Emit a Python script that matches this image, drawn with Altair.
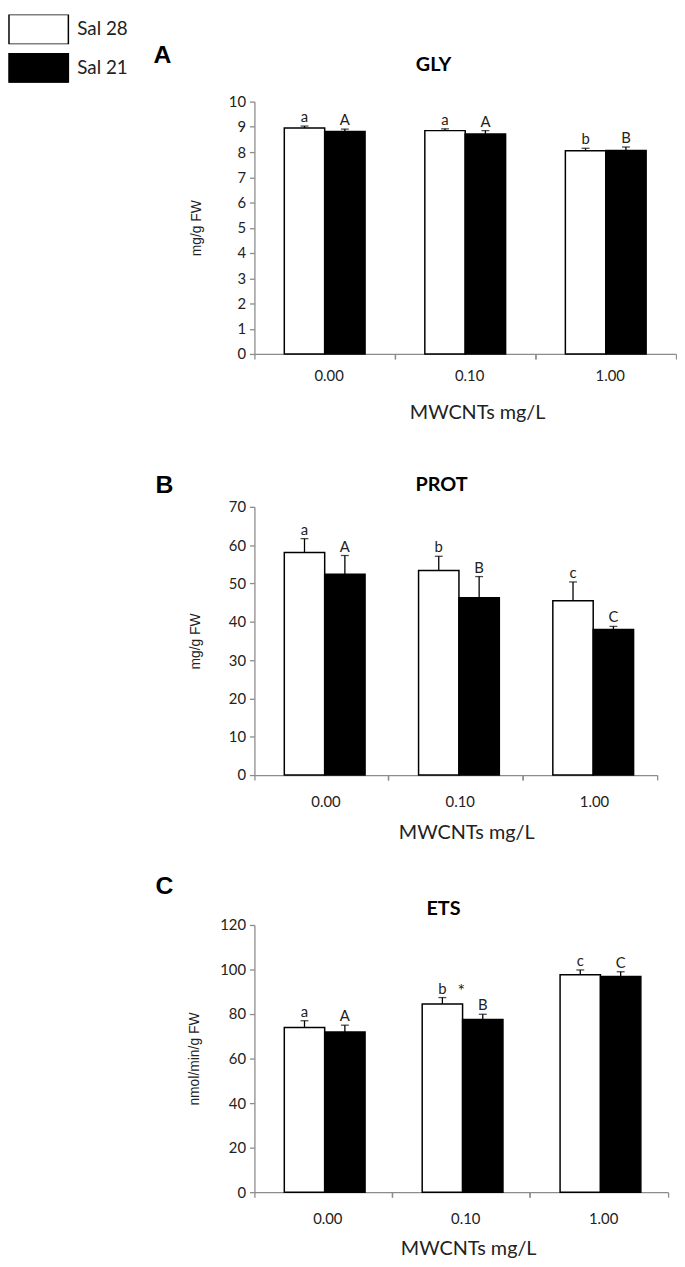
import altair as alt
import pandas as pd

# ---------------- data ----------------
conc = ["0.00", "0.10", "1.00"]
series = ["Sal 28", "Sal 21"]

gly_sal28 = [8.95, 8.85, 8.05]
gly_sal28_err = [0.08, 0.07, 0.10]
gly_sal21 = [8.82, 8.72, 8.06]
gly_sal21_err = [0.09, 0.13, 0.14]
gly_sal28_sig = ["a", "a", "b"]
gly_sal21_sig = ["A", "A", "B"]

prot_sal28 = [58.1, 53.4, 45.5]
prot_sal28_err = [3.6, 3.7, 4.9]
prot_sal21 = [52.4, 46.3, 38.0]
prot_sal21_err = [4.9, 5.5, 0.8]
prot_sal28_sig = ["a", "b", "c"]
prot_sal21_sig = ["A", "B", "C"]

ets_sal28 = [74.0, 84.5, 97.6]
ets_sal28_err = [3.0, 2.9, 2.2]
ets_sal21 = [71.9, 77.5, 96.9]
ets_sal21_err = [3.1, 2.4, 2.1]
ets_sal28_sig = ["a", "b", "c"]
ets_sal21_sig = ["A", "B", "C"]

ets_star_conc = ["0.10"]
ets_star_value = [90]
ets_star_text = ["*"]

panel_letters = ["A", "B", "C"]
panel_titles = ["GLY", "PROT", "ETS"]
y_titles = ["mg/g FW", "mg/g FW", "nmol/min/g FW"]
x_title = "MWCNTs mg/L"


def make_df(v28, e28, s28, v21, e21, s21):
    rows = []
    for i, c in enumerate(conc):
        rows.append({"conc": c, "series": series[0], "value": v28[i], "err": e28[i], "sig": s28[i]})
        rows.append({"conc": c, "series": series[1], "value": v21[i], "err": e21[i], "sig": s21[i]})
    return pd.DataFrame(rows)


AX = "#8c8c8c"
TXT = "#222222"

legend = alt.Legend(
    orient="none", legendX=-249, legendY=-88, title=None, padding=0, offset=0,
    titlePadding=0,
    symbolType="M-1,-0.5H1V0.5H-1Z", symbolSize=3600, clipHeight=30,
    symbolStrokeWidth=1.5, labelFont="Lato", labelFontSize=19,
    labelColor=TXT, labelOffset=8, rowPadding=9, direction="vertical",
)


def panel(df, width, height, ymax, ystep, ytitle, ytitle_x, title, title_xy,
          letter, letter_xy, label_pad, title_pad, xtitle, xtitle_x, extra=None):
    xscale = alt.Scale(paddingInner=0, paddingOuter=0)
    offscale = alt.Scale(paddingInner=0, paddingOuter=0.74)
    yscale = alt.Scale(domain=[0, ymax], nice=False, zero=True)
    yvals = list(range(0, ymax + 1, ystep))
    yaxis = alt.Axis(
        values=yvals, title=ytitle, grid=False, domainColor=AX, domainWidth=1.3,
        tickColor=AX, tickSize=5, tickWidth=1.3, labelFont="Lato", labelFontSize=15,
        labelColor=TXT, labelPadding=4, titleFont="Liberation Sans",
        titleFontSize=14, titleFontWeight="normal", titleColor=TXT,
        titleX=ytitle_x, titleBaseline="middle")
    base = alt.Chart(df).transform_calculate(hi="datum.value + datum.err")
    xoff = alt.XOffset("series:N", sort=series, scale=offscale)

    bars = base.mark_bar(stroke="black", strokeWidth=1.5).encode(
        x=alt.X("conc:N", sort=conc, scale=xscale, axis=alt.Axis(
            orient="bottom", title=xtitle, labelAngle=0, ticks=False, domain=True,
            domainColor=AX, domainWidth=1.3, labelFont="Lato", labelFontSize=15,
            labelColor=TXT, labelPadding=label_pad, labelOffset=4.5, titleFont="Lato",
            titleFontSize=20, titleFontWeight="normal", titleColor=TXT,
            titlePadding=title_pad, titleLineHeight=19, titleX=xtitle_x)),
        xOffset=xoff,
        y=alt.Y("value:Q", scale=yscale, axis=yaxis),
        fill=alt.Fill("series:N", sort=series,
                      scale=alt.Scale(domain=series, range=["white", "black"]),
                      legend=legend),
    )
    rule = base.mark_rule(color="black", strokeWidth=1.3).encode(
        x=alt.X("conc:N", sort=conc, scale=xscale, axis=alt.Axis(
            orient="bottom", labels=False, title=None, domain=False, ticks=True,
            bandPosition=0, tickColor=AX, tickSize=5, tickWidth=1.3)),
        xOffset=xoff,
        y=alt.Y("value:Q", scale=yscale, axis=yaxis),
        y2="hi:Q",
    )
    cap = base.mark_tick(color="black", thickness=1.3, size=8).encode(
        x=alt.X("conc:N", sort=conc, scale=xscale, axis=alt.Axis(
            orient="bottom", labels=False, title=None, domain=False, ticks=True,
            bandPosition=1, tickColor=AX, tickSize=5, tickWidth=1.3)),
        xOffset=xoff,
        y=alt.Y("hi:Q", scale=yscale, axis=yaxis),
    )
    sig = base.mark_text(font="Lato", fontSize=15, color=TXT, baseline="alphabetic", dy=-4).encode(
        x=alt.X("conc:N", sort=conc, scale=xscale, axis=None),
        xOffset=xoff,
        y=alt.Y("hi:Q", scale=yscale, axis=yaxis),
        text="sig:N",
    )
    letter_mark = alt.Chart(pd.DataFrame({"t": [letter]})).mark_text(
        font="Liberation Sans", fontSize=25, fontWeight="bold", color="black",
        baseline="middle", align="center").encode(
        x=alt.value(letter_xy[0]), y=alt.value(letter_xy[1]), text="t:N")
    title_mark = alt.Chart(pd.DataFrame({"t": [title]})).mark_text(
        font="Lato", fontSize=20, fontWeight="bold", color="black",
        baseline="middle", align="center").encode(
        x=alt.value(title_xy[0]), y=alt.value(title_xy[1]), text="t:N")
    layers = [bars, rule, cap, sig, letter_mark, title_mark]
    if extra is not None:
        layers.append(extra(xscale, yscale, yaxis))
    return alt.layer(*layers).resolve_axis(x="independent").properties(width=width, height=height)


gly_df = make_df(gly_sal28, gly_sal28_err, gly_sal28_sig, gly_sal21, gly_sal21_err, gly_sal21_sig)
prot_df = make_df(prot_sal28, prot_sal28_err, prot_sal28_sig, prot_sal21, prot_sal21_err, prot_sal21_sig)
ets_df = make_df(ets_sal28, ets_sal28_err, ets_sal28_sig, ets_sal21, ets_sal21_err, ets_sal21_sig)


def star_layer(xscale, yscale, yaxis):
    sdf = pd.DataFrame({"conc": ets_star_conc, "value": ets_star_value, "t": ets_star_text})
    return alt.Chart(sdf).mark_text(font="Lato", fontSize=18, color=TXT, baseline="middle").encode(
        x=alt.X("conc:N", sort=conc, scale=xscale, axis=None),
        y=alt.Y("value:Q", scale=yscale, axis=yaxis),
        text="t:N",
    )


pA = panel(gly_df, 426, 255, 10, 1, y_titles[0], -58, panel_titles[0], (181, -37),
           panel_letters[0], (-93, -47), 14.5, 20, [x_title, ""], 225)
pB = panel(prot_df, 407, 271, 70, 10, y_titles[1], -59, panel_titles[1], (189, -22),
           panel_letters[1], (-91, -22), 19.5, 14, x_title, 214)
pC = panel(ets_df, 418, 270, 120, 20, y_titles[2], -61, panel_titles[2], (191, -16),
           panel_letters[2], (-91, -39), 19.5, 12, x_title, 216, extra=star_layer)

chart = alt.vconcat(pA, pB, pC, spacing=31.5).configure_view(stroke=None).properties(
    padding=0, background="white")

chart.save("out.html", embed_options={"renderer": "svg", "actions": False})
